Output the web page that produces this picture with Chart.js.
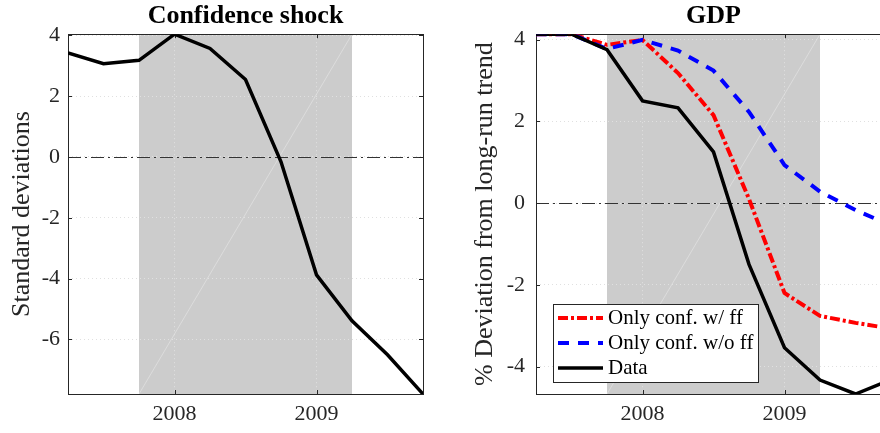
<!DOCTYPE html>
<html><head><meta charset="utf-8">
<script src="https://cdn.jsdelivr.net/npm/chart.js@4.4.0/dist/chart.umd.min.js"></script>
<style>
html,body{margin:0;padding:0;width:880px;height:433px;overflow:hidden;background:#fff;}
#c1{position:absolute;left:0;top:0;}
#c2{position:absolute;left:440px;top:0;}
</style></head><body>
<canvas id="c1" width="440" height="433"></canvas>
<canvas id="c2" width="460" height="433"></canvas>
<script>
// ---- data ----
const quarters = [2007.25, 2007.5, 2007.75, 2008.0, 2008.25, 2008.5, 2008.75, 2009.0, 2009.25, 2009.5, 2009.75];
const confidenceShock = [3.42, 3.07, 3.18, 4.04, 3.57, 2.55, -0.16, -3.88, -5.39, -6.51, -7.80];
const gdpOnlyConfWithFF = [4.13, 4.13, 3.87, 3.99, 3.18, 2.15, 0.10, -2.20, -2.76, -2.93, -3.07];
const gdpOnlyConfWithoutFF = [4.13, 4.13, 3.77, 3.99, 3.73, 3.24, 2.23, 0.93, 0.28, -0.17, -0.55];
const gdpData = [4.13, 4.13, 3.75, 2.50, 2.33, 1.25, -1.50, -3.54, -4.33, -4.67, -4.32];
const xTickValues = [2008, 2009];
const yTicksLeft = [-6, -4, -2, 0, 2, 4];
const yTicksRight = [-4, -2, 0, 2, 4];
const recession = [2007.75, 2009.25];
const xRange = [2007.25, 2009.75];
const yRangeLeft = [-7.80, 4.04];
const yRangeRight = [-4.67, 4.13];
const legendLabels = ['Only conf. w/ ff', 'Only conf. w/o ff', 'Data'];

const SERIF = '"Liberation Serif", "Times New Roman", Times, serif';
const AXIS = '#262626';

const pts = arr => quarters.map((q, i) => ({x: q, y: arr[i]}));

const frame = {
  id: 'frame',
  beforeDraw(chart) {
    const {ctx, chartArea: a, scales: {x}} = chart;
    const x0 = x.getPixelForValue(recession[0]), x1 = x.getPixelForValue(recession[1]);
    ctx.save();
    ctx.fillStyle = '#cccccc';
    ctx.fillRect(x0, a.top, x1 - x0, a.bottom - a.top);
    ctx.strokeStyle = 'rgba(255,255,255,0.45)';
    ctx.lineWidth = 0.7;
    ctx.beginPath(); ctx.moveTo(x0, a.bottom); ctx.lineTo(x1, a.top); ctx.stroke();
    ctx.restore();
  },
  beforeDatasetsDraw(chart) {
    const {ctx, chartArea: a, scales: {x, y}} = chart;
    ctx.save();
    // zero line
    const y0 = Math.round(y.getPixelForValue(0)) + 0.5;
    ctx.strokeStyle = '#333';
    ctx.lineWidth = 1;
    ctx.setLineDash([13, 4, 2, 4]);
    ctx.beginPath(); ctx.moveTo(a.left, y0); ctx.lineTo(a.right, y0); ctx.stroke();
    ctx.setLineDash([]);
    // box
    ctx.strokeStyle = AXIS;
    ctx.strokeRect(Math.round(a.left) + 0.5, Math.round(a.top) + 0.5,
                   Math.round(a.right - a.left), Math.round(a.bottom - a.top));
    // inward ticks
    ctx.beginPath();
    x.ticks.forEach(t => {
      const px = Math.round(x.getPixelForValue(t.value)) + 0.5;
      ctx.moveTo(px, a.bottom); ctx.lineTo(px, a.bottom - 4);
      ctx.moveTo(px, a.top); ctx.lineTo(px, a.top + 4);
    });
    y.ticks.forEach(t => {
      const py = Math.round(y.getPixelForValue(t.value)) + 0.5;
      ctx.moveTo(a.left, py); ctx.lineTo(a.left + 4, py);
      ctx.moveTo(a.right, py); ctx.lineTo(a.right - 4, py);
    });
    ctx.stroke();
    ctx.restore();
  }
};

const legendBox = {
  id: 'legendBox',
  afterDatasetsDraw(chart) {
    const {ctx} = chart;
    const bx = 113.5, by = 304.5, bw = 205, bh = 78;
    ctx.save();
    ctx.fillStyle = '#fff';
    ctx.fillRect(bx, by, bw, bh);
    ctx.strokeStyle = AXIS;
    ctx.lineWidth = 1;
    ctx.strokeRect(bx, by, bw, bh);
    legendLabels.forEach((lab, i) => {
      const ds = chart.data.datasets[i];
      const yy = 318 + i * 25;
      ctx.setLineDash(ds.borderDash || []);
      ctx.strokeStyle = ds.borderColor;
      ctx.lineWidth = ds.borderWidth;
      ctx.beginPath(); ctx.moveTo(118, yy); ctx.lineTo(163, yy); ctx.stroke();
      ctx.setLineDash([]);
      ctx.fillStyle = '#000';
      ctx.font = '21px ' + SERIF;
      ctx.textBaseline = 'middle';
      ctx.textAlign = 'left';
      ctx.fillText(lab, 168, yy);
    });
    ctx.restore();
  }
};

function makeChart(id, datasets, o) {
  return new Chart(document.getElementById(id), {
    type: 'line',
    data: {datasets},
    options: {
      responsive: false, animation: false, devicePixelRatio: 1,
      layout: {padding: {left: 0, right: o.padRight, top: 0, bottom: 0}},
      elements: {point: {radius: 0}, line: {tension: 0}},
      plugins: {
        legend: {display: false}, tooltip: {enabled: false},
        title: {display: true, text: o.title, fullSize: false, color: '#000',
                font: {family: SERIF, size: 26, weight: 'bold'}, padding: {top: 1, bottom: 2}}
      },
      scales: {
        x: {
          type: 'linear', min: xRange[0], max: xRange[1],
          afterBuildTicks: s => { s.ticks = xTickValues.map(v => ({value: v})); },
          afterFit: s => { s.height = 39; },
          grid: {color: '#e0e0e0', drawTicks: false},
          border: {display: false, dash: [1, 3]},
          ticks: {color: AXIS, font: {family: SERIF, size: 22}, padding: 7, maxRotation: 0,
                  callback: v => String(v)}
        },
        y: {
          type: 'linear', min: o.yRange[0], max: o.yRange[1],
          afterBuildTicks: s => { s.ticks = o.yTicks.map(v => ({value: v})); },
          afterFit: s => { s.width = o.yWidth; },
          grid: {color: '#e0e0e0', drawTicks: false},
          border: {display: false, dash: [1, 3]},
          ticks: {color: AXIS, font: {family: SERIF, size: 22}, padding: o.tickPad,
                  callback: v => String(v)},
          title: {display: true, text: o.yTitle, color: AXIS,
                  font: {family: SERIF, size: 26}, padding: {top: o.yTitlePad, bottom: 0}}
        }
      }
    },
    plugins: o.plugins
  });
}

makeChart('c1', [
  {data: pts(confidenceShock), borderColor: '#000', borderWidth: 3.5, fill: false}
], {title: 'Confidence shock', yTitle: 'Standard deviations', yRange: yRangeLeft, yTicks: yTicksLeft,
    yWidth: 68, padRight: 17, tickPad: 8, yTitlePad: 7, plugins: [frame]});

makeChart('c2', [
  {data: pts(gdpOnlyConfWithFF), borderColor: '#ff0000', borderWidth: 4, borderDash: [10, 3, 3, 3], fill: false, order: 3},
  {data: pts(gdpOnlyConfWithoutFF), borderColor: '#0000ff', borderWidth: 4, borderDash: [11, 9], fill: false, order: 2},
  {data: pts(gdpData), borderColor: '#000', borderWidth: 3.5, fill: false, order: 1}
], {title: 'GDP', yTitle: '% Deviation from long-run trend', yRange: yRangeRight, yTicks: yTicksRight,
    yWidth: 96, padRight: 9, tickPad: 11, yTitlePad: 30, plugins: [frame, legendBox]});
</script>
</body></html>
